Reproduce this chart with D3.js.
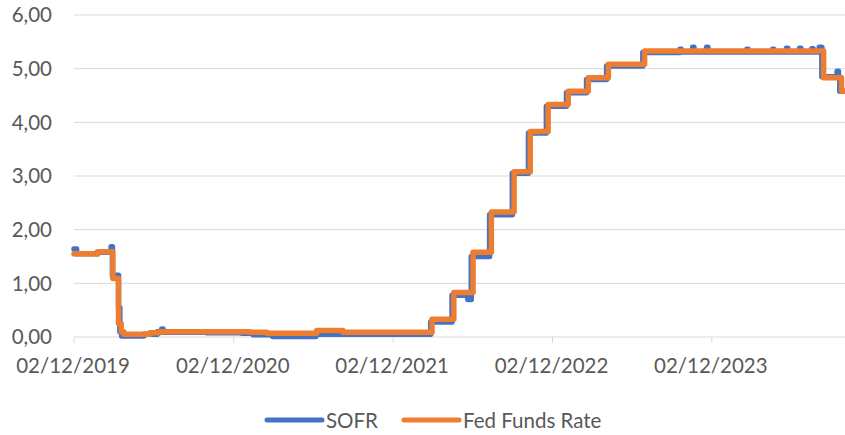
<!DOCTYPE html>
<html>
<head>
<meta charset="utf-8">
<script src="https://cdn.jsdelivr.net/npm/d3@7"></script>
<style>
    body { margin: 0; background: #fff; }
    svg { display: block; font-family: Lato, "Open Sans", sans-serif; }
    .grid line { stroke: #d9d9d9; stroke-width: 1; }
    .tick-label { fill: #595959; font-size: 20.5px; }
    .series { fill: none; stroke-width: 5.5; stroke-linejoin: round; stroke-linecap: round; }
</style>
</head>
<body>
<svg width="845" height="435"></svg>
<script>
// values (dates are where the steps sit on the chart)
const fedDates = [
    '2019-12-02', '2020-01-26', '2020-02-29', '2020-03-13', '2020-03-19', '2020-03-25',
    '2020-05-24', '2020-06-16', '2021-01-08', '2021-02-16', '2021-06-10', '2021-08-09',
    '2022-03-01', '2022-04-20', '2022-06-03', '2022-07-15', '2022-09-05', '2022-10-12',
    '2022-11-22', '2023-01-07', '2023-02-22', '2023-04-09', '2023-07-01', '2024-08-14',
    '2024-09-24', '2024-10-20'
];
const fedValues = [
    1.55, 1.59, 1.09, 0.25, 0.10, 0.05,
    0.08, 0.10, 0.09, 0.07, 0.12, 0.09,
    0.33, 0.83, 1.58, 2.33, 3.08, 3.83,
    4.33, 4.58, 4.83, 5.08, 5.33, 4.83,
    4.58, 4.58
];

const sofrDates = [
    '2019-12-02', '2019-12-08', '2020-01-24', '2020-02-25', '2020-02-28', '2020-03-13',
    '2020-03-16', '2020-03-20', '2020-05-10', '2020-06-10', '2020-06-20', '2020-06-23',
    '2020-10-01', '2020-12-20', '2021-01-15', '2021-03-01', '2021-06-08', '2021-12-31',
    '2022-01-03', '2022-02-26', '2022-04-16', '2022-05-22', '2022-05-30', '2022-07-11',
    '2022-09-01', '2022-10-08', '2022-11-18', '2023-01-03', '2023-02-18', '2023-04-05',
    '2023-06-27', '2023-09-20', '2023-09-23', '2023-10-19', '2023-10-22', '2023-11-20',
    '2023-11-23', '2024-02-20', '2024-02-23', '2024-04-19', '2024-04-22', '2024-05-21',
    '2024-05-24', '2024-06-20', '2024-06-23', '2024-07-18', '2024-07-21', '2024-08-04',
    '2024-08-10', '2024-09-14', '2024-09-17', '2024-09-20', '2024-10-20'
];
const sofrValues = [
    1.64, 1.55, 1.58, 1.68, 1.15, 0.55,
    0.10, 0.02, 0.05, 0.10, 0.15, 0.09,
    0.08, 0.07, 0.04, 0.01, 0.05, 0.05,
    0.05, 0.28, 0.78, 0.70, 1.50, 2.28,
    3.05, 3.80, 4.30, 4.55, 4.80, 5.05,
    5.30, 5.36, 5.31, 5.40, 5.31, 5.40,
    5.31, 5.36, 5.31, 5.36, 5.31, 5.38,
    5.31, 5.38, 5.31, 5.37, 5.31, 5.40,
    4.85, 4.95, 4.85, 4.58, 4.56
];

const tickDates = ['2019-12-02', '2020-12-02', '2021-12-02', '2022-12-02', '2023-12-02'];
const yTicks = [0, 1, 2, 3, 4, 5, 6];

const seriesNames = ['SOFR', 'Fed Funds Rate'];
const seriesColors = ['#4472c4', '#ed7d31'];

const parse = d3.timeParse('%Y-%m-%d');
const fmtDate = d3.timeFormat('%d/%m/%Y');
const fmtNum = d3.formatLocale({decimal: ',', thousands: '.', grouping: [3], currency: ['', '']}).format('.2f');

const plotLeft = 74, plotRight = 845, plotTop = 15, plotBottom = 337;

const x = d3.scaleTime()
    .domain([parse('2019-12-02'), parse('2024-10-02')])
    .range([plotLeft, plotRight]);
const y = d3.scaleLinear()
    .domain([0, 6])
    .range([plotBottom, plotTop]);

const svg = d3.select('svg');

svg.append('defs').append('clipPath')
    .attr('id', 'plot')
    .append('rect')
    .attr('x', plotLeft - 10)
    .attr('y', 0)
    .attr('width', plotRight - plotLeft + 10)
    .attr('height', 400);

// Gridlines + y labels
const grid = svg.append('g').classed('grid', true);
grid.selectAll('line.h')
    .data(yTicks)
    .enter()
    .append('line')
    .classed('h', true)
    .attr('x1', plotLeft)
    .attr('x2', plotRight)
    .attr('y1', d => y(d))
    .attr('y2', d => y(d));

svg.append('g')
    .selectAll('text')
    .data(yTicks)
    .enter()
    .append('text')
    .classed('tick-label', true)
    .attr('x', 52)
    .attr('y', d => y(d))
    .attr('dy', '0.36em')
    .attr('text-anchor', 'end')
    .text(d => fmtNum(d));

// X axis ticks + labels
const ticks = tickDates.map(parse);
grid.selectAll('line.v')
    .data(ticks)
    .enter()
    .append('line')
    .classed('v', true)
    .attr('x1', d => x(d))
    .attr('x2', d => x(d))
    .attr('y1', plotBottom)
    .attr('y2', plotBottom + 6);

svg.append('g')
    .selectAll('text')
    .data(ticks)
    .enter()
    .append('text')
    .classed('tick-label', true)
    .attr('x', d => x(d) - 1)
    .attr('y', 373)
    .attr('text-anchor', 'middle')
    .text(d => fmtDate(d));

// Lines
const sofr = sofrDates.map((d, i) => ({date: parse(d), value: sofrValues[i]}));
const fed = fedDates.map((d, i) => ({date: parse(d), value: fedValues[i]}));

const line = d3.line()
    .curve(d3.curveStepAfter)
    .x(d => x(d.date))
    .y(d => y(d.value));

const lines = svg.append('g').attr('clip-path', 'url(#plot)');
[sofr, fed].forEach((s, i) => {
    lines.append('path')
        .datum(s)
        .classed('series', true)
        .attr('stroke', seriesColors[i])
        .attr('d', line);
});

// Legend
const legendX = [267, 404];
const legend = svg.append('g');
seriesNames.forEach((name, i) => {
    legend.append('line')
        .attr('x1', legendX[i])
        .attr('x2', legendX[i] + 55)
        .attr('y1', 420)
        .attr('y2', 420)
        .attr('stroke', seriesColors[i])
        .attr('stroke-width', 5)
        .attr('stroke-linecap', 'round');
    legend.append('text')
        .classed('tick-label', true)
        .attr('x', legendX[i] + 59)
        .attr('y', 428)
        .text(name);
});
</script>
</body>
</html>
